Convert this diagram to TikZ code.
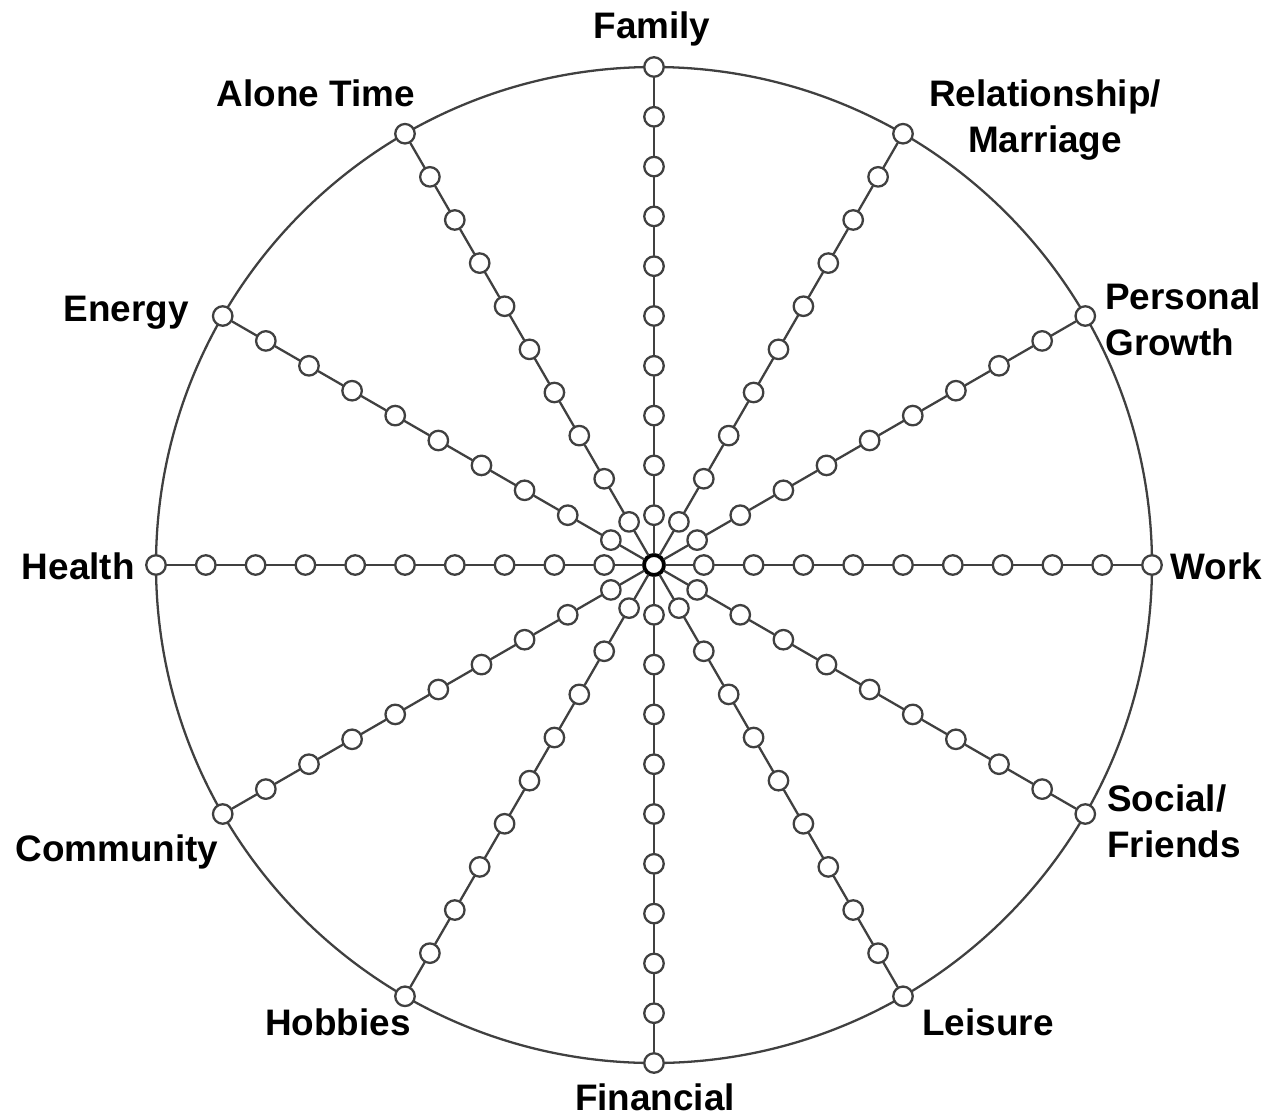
\documentclass[tikz,border=0pt]{standalone}
\usepackage{fontspec}
\setmainfont{Liberation Sans}
\usetikzlibrary{positioning}
\definecolor{wheelGray}{RGB}{64,64,64}

\begin{document}
\begin{tikzpicture}[x=0.02cm, y=0.02cm, line cap=round, line join=round,
        dot/.style={circle, draw=wheelGray, fill=white, line width=1.3pt, inner sep=0pt, minimum size=0.39cm},
        hub/.style={circle, draw=black, fill=white, line width=2.2pt, inner sep=0pt, minimum size=0.40cm},
        spoke/.style={draw=wheelGray, line width=1.3pt},
        lbl/.style={inner sep=0pt, font=\bfseries\fontsize{21}{26}\selectfont, align=center}]
        \useasboundingbox (-654,-552) rectangle (617,565);
        \draw[wheelGray, line width=1.3pt] (0,0) circle (498);
        \node[hub] (hub) at (0,0) {};
        \foreach \i in {0,...,11} {
            \foreach \k in {1,...,10} {
                \node[dot] (p\i-\k) at ({90-30*\i}:{49.8*\k}) {};
            }
            \draw[spoke] (hub) -- (p\i-1);
            \foreach \k [count=\kk from 2] in {1,...,9}
                \draw[spoke] (p\i-\k) -- (p\i-\kk);
        }
        \node[lbl, anchor=base] (family) at (-2,527) {Family};
        \node[lbl, anchor=base] (alone) at (-338,459) {Alone Time};
        \node[lbl, anchor=base] (relation) at (391,413) {Relationship/\\Marriage};
        \node[lbl, anchor=base west, align=left] (growth) at (451,210) {Personal\\Growth};
        \node[lbl, anchor=base] (energy) at (-528,244) {Energy};
        \node[lbl, anchor=base east] (health) at (-519,-14) {Health};
        \node[lbl, anchor=base west] (work) at (516,-14) {Work};
        \node[lbl, anchor=base] (community) at (-537,-296) {Community};
        \node[lbl, anchor=base west, align=left] (social) at (453,-292) {Social/\\Friends};
        \node[lbl, anchor=base] (hobbies) at (-316,-470) {Hobbies};
        \node[lbl, anchor=base] (leisure) at (334,-470) {Leisure};
        \node[lbl, anchor=base] (financial) at (1,-545) {Financial};
    \end{tikzpicture}
\end{document}
